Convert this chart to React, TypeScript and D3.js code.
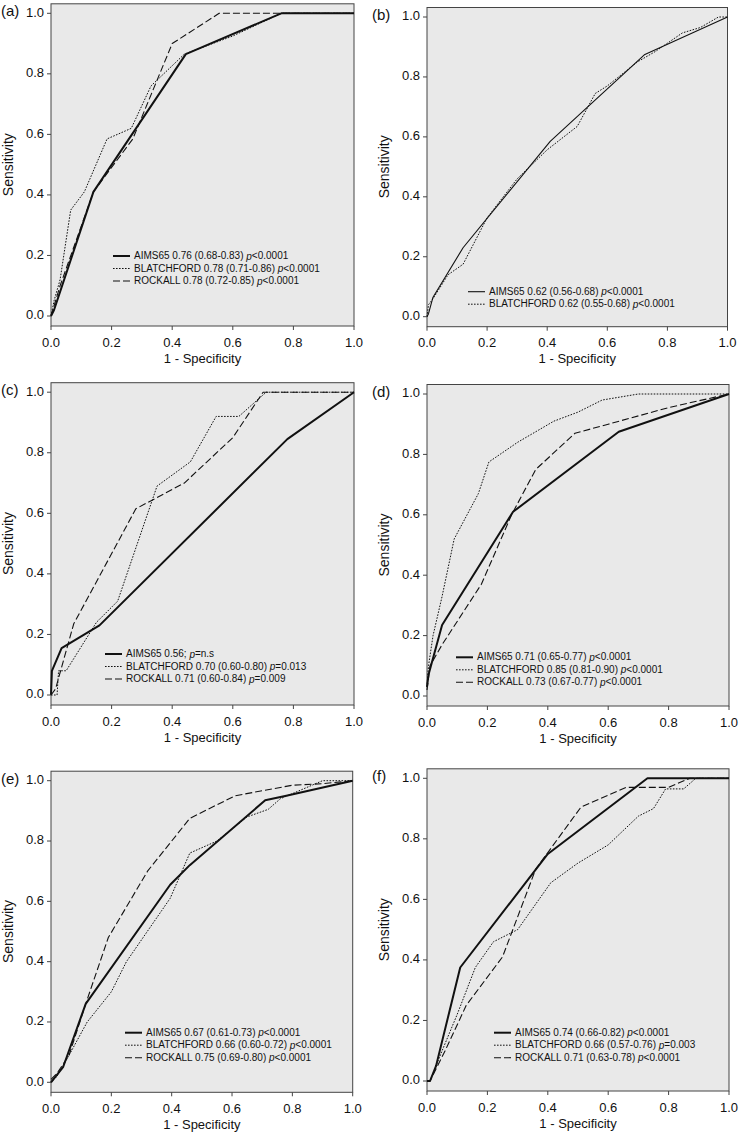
import React from "react";
import * as d3 from "d3";

type Pt = [number, number];

// ---------- data (1 - specificity, sensitivity) ----------
const a_AIMS65: Pt[] = [[0, 0], [0.01, 0.02], [0.14, 0.41], [0.445, 0.865], [0.76, 1.0], [1, 1]];
const a_BLATCHFORD: Pt[] = [[0, 0], [0.01, 0.05], [0.03, 0.12], [0.065, 0.35], [0.11, 0.41], [0.185, 0.585], [0.265, 0.62], [0.33, 0.76], [0.44, 0.865], [0.6, 0.925], [0.76, 1.0], [1, 1]];
const a_ROCKALL: Pt[] = [[0, 0], [0.03, 0.1], [0.14, 0.41], [0.27, 0.585], [0.4, 0.9], [0.555, 1.0], [1, 1]];

const b_AIMS65: Pt[] = [[0, 0], [0.005, 0.01], [0.02, 0.065], [0.12, 0.23], [0.41, 0.585], [0.725, 0.875], [1, 1]];
const b_BLATCHFORD: Pt[] = [[0, 0], [0.005, 0.04], [0.02, 0.06], [0.07, 0.14], [0.12, 0.175], [0.2, 0.33], [0.3, 0.46], [0.4, 0.557], [0.5, 0.635], [0.56, 0.745], [0.6, 0.77], [0.7, 0.85], [0.76, 0.885], [0.85, 0.947], [0.91, 0.965], [0.97, 1.0], [1, 1]];

const c_AIMS65: Pt[] = [[0, 0], [0.003, 0.08], [0.035, 0.155], [0.16, 0.23], [0.78, 0.845], [1, 1]];
const c_BLATCHFORD: Pt[] = [[0, 0], [0.02, 0], [0.025, 0.08], [0.05, 0.08], [0.15, 0.24], [0.22, 0.31], [0.35, 0.69], [0.46, 0.77], [0.545, 0.92], [0.62, 0.92], [0.71, 1.0], [1, 1]];
const c_ROCKALL: Pt[] = [[0, 0], [0.015, 0.02], [0.075, 0.235], [0.28, 0.615], [0.44, 0.7], [0.6, 0.85], [0.7, 1.0], [1, 1]];

const d_AIMS65: Pt[] = [[0, 0.03], [0.005, 0.07], [0.05, 0.235], [0.285, 0.61], [0.635, 0.875], [1, 1]];
const d_BLATCHFORD: Pt[] = [[0, 0.03], [0.005, 0.1], [0.02, 0.2], [0.05, 0.33], [0.09, 0.52], [0.17, 0.67], [0.205, 0.775], [0.3, 0.84], [0.42, 0.91], [0.5, 0.94], [0.58, 0.98], [0.7, 1.0], [1, 1]];
const d_ROCKALL: Pt[] = [[0, 0.02], [0.01, 0.1], [0.05, 0.17], [0.18, 0.37], [0.28, 0.6], [0.36, 0.75], [0.49, 0.87], [0.6, 0.9], [0.8, 0.955], [1, 1]];

const e_AIMS65: Pt[] = [[0, 0], [0.04, 0.05], [0.115, 0.26], [0.395, 0.655], [0.46, 0.72], [0.71, 0.935], [0.78, 0.95], [1, 1]];
const e_BLATCHFORD: Pt[] = [[0, 0], [0.02, 0.02], [0.06, 0.09], [0.12, 0.2], [0.2, 0.3], [0.25, 0.4], [0.395, 0.61], [0.46, 0.76], [0.55, 0.8], [0.65, 0.88], [0.72, 0.905], [0.76, 0.94], [0.9, 1.0], [1, 1]];
const e_ROCKALL: Pt[] = [[0, 0.01], [0.02, 0.03], [0.06, 0.09], [0.115, 0.26], [0.19, 0.48], [0.32, 0.7], [0.46, 0.875], [0.61, 0.95], [0.8, 0.985], [0.9, 0.99], [1, 1]];

const f_AIMS65: Pt[] = [[0, 0], [0.01, 0], [0.03, 0.05], [0.11, 0.375], [0.4, 0.75], [0.73, 1.0], [1, 1]];
const f_BLATCHFORD: Pt[] = [[0, 0], [0.01, 0], [0.05, 0.1], [0.1, 0.22], [0.16, 0.375], [0.22, 0.46], [0.26, 0.48], [0.3, 0.5], [0.41, 0.655], [0.5, 0.72], [0.6, 0.78], [0.7, 0.875], [0.75, 0.9], [0.79, 0.965], [0.85, 0.965], [0.89, 1.0], [1, 1]];
const f_ROCKALL: Pt[] = [[0, 0], [0.01, 0], [0.06, 0.1], [0.13, 0.25], [0.25, 0.41], [0.36, 0.7], [0.51, 0.905], [0.66, 0.97], [0.8, 0.97], [0.87, 1.0], [1, 1]];

const panelLabels = ["(a)", "(b)", "(c)", "(d)", "(e)", "(f)"];
const tickValues = [0, 0.2, 0.4, 0.6, 0.8, 1.0];
const xTitle = "1 - Specificity";
const yTitle = "Sensitivity";

const a_legend = ["AIMS65 0.76 (0.68-0.83) p<0.0001", "BLATCHFORD 0.78 (0.71-0.86) p<0.0001", "ROCKALL 0.78 (0.72-0.85) p<0.0001"];
const b_legend = ["AIMS65 0.62 (0.56-0.68) p<0.0001", "BLATCHFORD 0.62 (0.55-0.68) p<0.0001"];
const c_legend = ["AIMS65 0.56; p=n.s", "BLATCHFORD 0.70 (0.60-0.80) p=0.013", "ROCKALL 0.71 (0.60-0.84) p=0.009"];
const d_legend = ["AIMS65 0.71 (0.65-0.77) p<0.0001", "BLATCHFORD 0.85 (0.81-0.90) p<0.0001", "ROCKALL 0.73 (0.67-0.77) p<0.0001"];
const e_legend = ["AIMS65 0.67 (0.61-0.73) p<0.0001", "BLATCHFORD 0.66 (0.60-0.72) p<0.0001", "ROCKALL 0.75 (0.69-0.80) p<0.0001"];
const f_legend = ["AIMS65 0.74 (0.66-0.82) p<0.0001", "BLATCHFORD 0.66 (0.57-0.76) p=0.003", "ROCKALL 0.71 (0.63-0.78) p<0.0001"];

// ---------- layout / styles ----------
const FONT = "'Liberation Sans', Arial, Helvetica, sans-serif";
const styles = [
  { dash: "none", width: 2 },
  { dash: "1.6,1.4", width: 1 },
  { dash: "7,3", width: 1.1 },
];

const panels = [
  { label: panelLabels[0], left: 51, right: 354, y1: 13.3, y0: 316, series: [a_AIMS65, a_BLATCHFORD, a_ROCKALL], legend: a_legend, lx: 113, ly: 256, thin: false },
  { label: panelLabels[1], left: 427, right: 727.5, y1: 17, y0: 316.7, series: [b_AIMS65, b_BLATCHFORD], legend: b_legend, lx: 468, ly: 291.7, thin: true },
  { label: panelLabels[2], left: 51, right: 354, y1: 392.2, y0: 695, series: [c_AIMS65, c_BLATCHFORD, c_ROCKALL], legend: c_legend, lx: 105, ly: 654, thin: false },
  { label: panelLabels[3], left: 427, right: 729, y1: 394, y0: 696, series: [d_AIMS65, d_BLATCHFORD, d_ROCKALL], legend: d_legend, lx: 456, ly: 657.3, thin: false },
  { label: panelLabels[4], left: 51, right: 352.7, y1: 780.7, y0: 1082.3, series: [e_AIMS65, e_BLATCHFORD, e_ROCKALL], legend: e_legend, lx: 125, ly: 1032.7, thin: false },
  { label: panelLabels[5], left: 427, right: 729, y1: 778.3, y0: 1081, series: [f_AIMS65, f_BLATCHFORD, f_ROCKALL], legend: f_legend, lx: 494, ly: 1032.7, thin: false },
];

function LegendText({ text, x, y }: { text: string; x: number; y: number }) {
  const m = text.match(/^(.*)p([<=].*)$/);
  return (
    <text x={x} y={y} fontSize={10} fontFamily={FONT} fill="#111" dominantBaseline="middle">
      {m ? (
        <>
          {m[1]}
          <tspan fontStyle="italic">p</tspan>
          {m[2]}
        </>
      ) : (
        text
      )}
    </text>
  );
}

function Panel({ p }: { p: (typeof panels)[number] }) {
  const x = d3.scaleLinear().domain([0, 1]).range([p.left, p.right]);
  const y = d3.scaleLinear().domain([0, 1]).range([p.y0, p.y1]);
  const top = p.y1 - 9.5;
  const bottom = p.y0 + 10;
  const fmt = d3.format(".1f");
  const line = d3
    .line<Pt>()
    .x((d) => x(d[0]))
    .y((d) => y(d[1]));
  const mid = (p.left + p.right) / 2;
  return (
    <g>
      <rect x={p.left} y={top} width={p.right - p.left} height={bottom - top} fill="#e9e9e9" stroke="#444" strokeWidth={1} />
      {p.series.map((s, i) => (
        <path
          key={i}
          d={line(s) || ""}
          fill="none"
          stroke="#111"
          strokeWidth={i === 0 && p.thin ? 1.1 : styles[i].width}
          strokeDasharray={styles[i].dash}
          strokeLinejoin="round"
        />
      ))}
      {tickValues.map((t) => (
        <g key={"y" + t}>
          <line x1={p.left - 4} x2={p.left} y1={y(t)} y2={y(t)} stroke="#444" />
          <text x={p.left - 7} y={y(t)} textAnchor="end" dominantBaseline="middle" fontSize={13} fontFamily={FONT} fill="#111">
            {fmt(t)}
          </text>
        </g>
      ))}
      {tickValues.map((t) => (
        <g key={"x" + t}>
          <line x1={x(t)} x2={x(t)} y1={bottom} y2={bottom + 4} stroke="#444" />
          <text x={x(t)} y={bottom + 20.5} textAnchor="middle" fontSize={13} fontFamily={FONT} fill="#111">
            {fmt(t)}
          </text>
        </g>
      ))}
      <text x={mid} y={p.y0 + 46.5} textAnchor="middle" fontSize={13} fontFamily={FONT} fill="#111">
        {xTitle}
      </text>
      <text
        transform={`translate(${p.left - 38},${(p.y0 + p.y1) / 2}) rotate(-90)`}
        textAnchor="middle"
        fontSize={14}
        fontFamily={FONT}
        fill="#111"
      >
        {yTitle}
      </text>
      <text x={p.left < 200 ? 1 : 372} y={p.y1 + 3} fontSize={15} fontFamily={FONT} fill="#111">
        {p.label}
      </text>
      {p.legend.map((t, i) => {
        const ly = p.ly + i * 12.5;
        return (
          <g key={"l" + i}>
            <line
              x1={p.lx}
              x2={p.lx + 17}
              y1={ly}
              y2={ly}
              stroke="#111"
              strokeWidth={i === 0 && p.thin ? 1.1 : styles[i].width}
              strokeDasharray={styles[i].dash}
            />
            <LegendText text={t} x={p.lx + 21} y={ly + 0.5} />
          </g>
        );
      })}
    </g>
  );
}

export default function App() {
  return (
    <svg width={739} height={1132} style={{ position: "absolute", left: 0, top: 0, background: "#fff" }}>
      {panels.map((p, i) => (
        <Panel key={i} p={p} />
      ))}
    </svg>
  );
}
